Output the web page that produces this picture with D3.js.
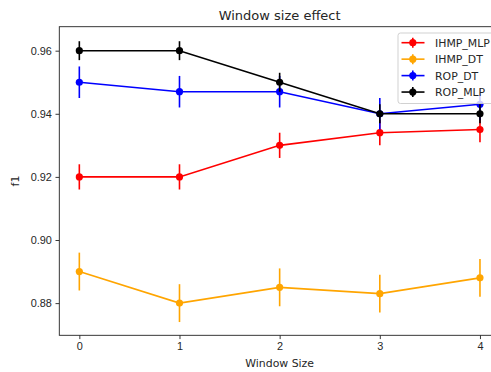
<!DOCTYPE html>
<html lang="en">
<head>
<meta charset="UTF-8">
<script src="https://d3js.org/d3.v7.min.js"></script>
<title>Window size effect</title>
<style>
    body { margin: 0; background: white; }
    svg { display: block; font-family: "DejaVu Sans", sans-serif; }
    .tick text { font-size: 10.9px; fill: #262626; }
</style>
</head>
<body>
<div id="chart"></div>
<script>
// values
const windowSizes = [0, 1, 2, 3, 4];
const seriesNames = ["IHMP_MLP", "IHMP_DT", "ROP_DT", "ROP_MLP"];
const seriesColors = ["red", "orange", "blue", "black"];
const ihmpMlp = [0.920, 0.920, 0.930, 0.934, 0.935];
const ihmpMlpErr = [0.004, 0.004, 0.004, 0.004, 0.004];
const ihmpDt = [0.890, 0.880, 0.885, 0.883, 0.888];
const ihmpDtErr = [0.006, 0.006, 0.006, 0.006, 0.006];
const ropDt = [0.950, 0.947, 0.947, 0.940, 0.943];
const ropDtErr = [0.005, 0.005, 0.005, 0.005, 0.005];
const ropMlp = [0.960, 0.960, 0.950, 0.940, 0.940];
const ropMlpErr = [0.003, 0.003, 0.003, 0.003, 0.003];
const yTicks = [0.88, 0.90, 0.92, 0.94, 0.96];

const series = [
    {name: seriesNames[0], color: seriesColors[0], vals: ihmpMlp, err: ihmpMlpErr},
    {name: seriesNames[1], color: seriesColors[1], vals: ihmpDt, err: ihmpDtErr},
    {name: seriesNames[2], color: seriesColors[2], vals: ropDt, err: ropDtErr},
    {name: seriesNames[3], color: seriesColors[3], vals: ropMlp, err: ropMlpErr}
];

const W = 491, H = 372;
const axLeft = 59.3, axRight = 500, axTop = 26.7, axBottom = 335.3;

var x = d3.scaleLinear().domain([-0.2, 4.2]).range([axLeft, axRight]);
var y = d3.scaleLinear().domain([0.8698, 0.9676]).range([axBottom, axTop]);

var svg = d3.select("#chart").append("svg")
    .attr("width", W).attr("height", H);

// axes
svg.append("g").attr("transform", "translate(0," + axBottom + ")")
    .call(d3.axisBottom(x).tickValues(windowSizes).tickFormat(d3.format("d"))
        .tickSize(3.8).tickSizeOuter(0).tickPadding(3.6))
    .call(g => g.select(".domain").remove())
    .call(g => g.selectAll(".tick line").attr("stroke", "#222").attr("stroke-width", 0.9));

svg.append("g").attr("transform", "translate(" + axLeft + ",0)")
    .call(d3.axisLeft(y).tickValues(yTicks).tickFormat(d3.format(".2f"))
        .tickSize(3.8).tickSizeOuter(0).tickPadding(3.6))
    .call(g => g.select(".domain").remove())
    .call(g => g.selectAll(".tick line").attr("stroke", "#222").attr("stroke-width", 0.9));

// frame
svg.append("rect")
    .attr("x", axLeft).attr("y", axTop)
    .attr("width", axRight - axLeft).attr("height", axBottom - axTop)
    .attr("fill", "none").attr("stroke", "#222").attr("stroke-width", 0.9);

// series
var line = d3.line().x((d, i) => x(windowSizes[i])).y(d => y(d));

series.forEach(function(s) {
    var g = svg.append("g");
    g.selectAll("line.err")
        .data(s.vals)
        .enter().append("line")
        .attr("class", "err")
        .attr("x1", (d, i) => x(windowSizes[i]))
        .attr("x2", (d, i) => x(windowSizes[i]))
        .attr("y1", (d, i) => y(d - s.err[i]))
        .attr("y2", (d, i) => y(d + s.err[i]))
        .attr("stroke", s.color).attr("stroke-width", 1.6);
    g.append("path")
        .datum(s.vals)
        .attr("d", line)
        .attr("fill", "none")
        .attr("stroke", s.color).attr("stroke-width", 1.6);
    g.selectAll("circle")
        .data(s.vals)
        .enter().append("circle")
        .attr("cx", (d, i) => x(windowSizes[i]))
        .attr("cy", d => y(d))
        .attr("r", 3.6)
        .attr("fill", s.color);
});

// title and labels
svg.append("text")
    .attr("x", (axLeft + axRight) / 2).attr("y", 19.8)
    .attr("text-anchor", "middle")
    .style("font-size", "13px").style("fill", "#262626")
    .text("Window size effect");

svg.append("text")
    .attr("x", (axLeft + axRight) / 2).attr("y", 367)
    .attr("text-anchor", "middle")
    .style("font-size", "10.9px").style("fill", "#262626")
    .text("Window Size");

svg.append("text")
    .attr("transform", "translate(19," + ((axTop + axBottom) / 2) + ") rotate(-90)")
    .attr("text-anchor", "middle")
    .style("font-size", "10.9px").style("fill", "#262626")
    .text("f1");

// legend
var lg = svg.append("g");
lg.append("rect")
    .attr("x", 398).attr("y", 33)
    .attr("width", 97).attr("height", 70.5)
    .attr("rx", 2.5)
    .attr("fill", "white").attr("fill-opacity", 0.8)
    .attr("stroke", "#ccc").attr("stroke-width", 0.9);

var item = lg.selectAll("g.item")
    .data(series)
    .enter().append("g")
    .attr("class", "item")
    .attr("transform", (d, i) => "translate(0," + (42.7 + i * 16.45) + ")");
item.append("line")
    .attr("x1", 401.5).attr("x2", 424.5)
    .attr("stroke", d => d.color).attr("stroke-width", 1.6);
item.append("line")
    .attr("x1", 412.8).attr("x2", 412.8).attr("y1", -5).attr("y2", 5)
    .attr("stroke", d => d.color).attr("stroke-width", 1.6);
item.append("circle")
    .attr("cx", 412.8).attr("r", 3.6)
    .attr("fill", d => d.color);
item.append("text")
    .attr("x", 435).attr("y", 3.9)
    .style("font-size", "10.9px").style("fill", "#262626")
    .text(d => d.name);
</script>
</body>
</html>
